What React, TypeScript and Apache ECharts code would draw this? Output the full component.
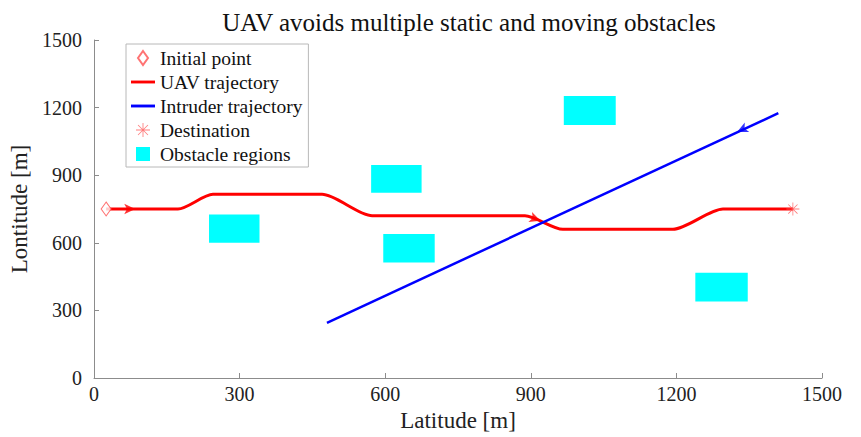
import React, { useEffect, useRef } from "react";
import * as echarts from "echarts";

const titleText = "UAV avoids multiple static and moving obstacles";
const xTicks = [0, 300, 600, 900, 1200, 1500];
const yTicks = [0, 300, 600, 900, 1200, 1500];
const initialPoint = [[25, 750]];
const destinationPoint = [[1440, 750]];
const uavTrajectory = [
  [25, 750], [173, 750], [245, 815], [470, 815], [573, 720],
  [888, 720], [966, 660], [1193, 660], [1296, 750], [1440, 750],
];
const intruderTrajectory = [[480, 245], [1410, 1175]];
// [xMin, xMax, yMin, yMax]
const obstacles = [
  [237, 341, 600, 726],
  [571, 675, 822, 945],
  [596, 702, 513, 639],
  [968, 1075, 1123, 1252],
  [1239, 1347, 340, 467],
];
// [x, y, rotation]
const uavArrows = [[85, 750, -90], [920, 698, -110]];
const intruderArrows = [[1325, 1092, 115]];

const FONT = "'Liberation Serif', 'Times New Roman', serif";
const DIAMOND = "path://M5,0 L10,7 L5,14 L0,7 Z";
const ASTERISK =
  "path://M9.4,0 L10.6,0 L10.6,20 L9.4,20 Z M0,9.4 L20,9.4 L20,10.6 L0,10.6 Z M2.5,3.3 L3.3,2.5 L17.5,16.7 L16.7,17.5 Z M16.7,2.5 L17.5,3.3 L3.3,17.5 L2.5,16.7 Z";
const SQUARE = "path://M0,0 L10,0 L10,10 L0,10 Z";
const LINE_ICON = "path://M0,0 L25,0 L25,3 L0,3 Z";

export default function App() {
  const ref = useRef<HTMLDivElement>(null);
  useEffect(() => {
    if (!ref.current) return;
    const chart = echarts.init(ref.current, null, { renderer: "svg" });
    const axisCommon = {
      min: 0,
      max: 1500,
      interval: 300,
      axisLine: { show: true, lineStyle: { color: "#8c8c8c", width: 1 } },
      axisTick: { show: true, inside: true, length: 5, lineStyle: { color: "#8c8c8c" } },
      splitLine: { show: false },
      nameTextStyle: { fontFamily: FONT, fontSize: 23, color: "#222" },
    };
    chart.setOption({
      animation: false,
      backgroundColor: "#fff",
      title: {
        text: titleText,
        left: 464,
        textAlign: "center",
        top: 5,
        textStyle: { fontFamily: FONT, fontSize: 25, fontWeight: "normal", color: "#111" },
      },
      grid: { left: 94, right: 39, top: 40, bottom: 59, containLabel: false },
      legend: {
        orient: "vertical",
        left: 126,
        top: 44,
        padding: [4, 6, 3, 5],
        itemWidth: 24,
        itemHeight: 14,
        itemGap: 4,
        backgroundColor: "#fff",
        borderColor: "#b8b8b8",
        borderWidth: 1,
        textStyle: { fontFamily: FONT, fontSize: 19.5, color: "#111" },
        data: [
          { name: "Initial point", icon: DIAMOND },
          { name: "UAV trajectory", icon: LINE_ICON },
          { name: "Intruder trajectory", icon: LINE_ICON },
          { name: "Destination", icon: ASTERISK },
          { name: "Obstacle regions", icon: SQUARE },
        ],
      },
      xAxis: {
        type: "value",
        ...axisCommon,
        name: "Latitude [m]",
        nameLocation: "middle",
        nameGap: 29,
        axisLabel: {
          fontFamily: FONT,
          fontSize: 20,
          color: "#222",
          margin: 6,
          formatter: (v: number) => (xTicks.includes(v) ? String(v) : ""),
        },
      },
      yAxis: {
        type: "value",
        ...axisCommon,
        name: "Lontitude [m]",
        nameLocation: "middle",
        nameGap: 56,
        axisLabel: {
          fontFamily: FONT,
          fontSize: 20,
          color: "#222",
          margin: 12,
          formatter: (v: number) => (yTicks.includes(v) ? String(v) : ""),
        },
      },
      series: [
        {
          name: "Obstacle regions",
          type: "custom",
          data: obstacles,
          itemStyle: { color: "#00ffff" },
          renderItem: (params: any, api: any) => {
            const p0 = api.coord([api.value(0), api.value(3)]);
            const p1 = api.coord([api.value(1), api.value(2)]);
            return {
              type: "rect",
              shape: { x: p0[0], y: p0[1], width: p1[0] - p0[0], height: p1[1] - p0[1] },
              style: { fill: "#00ffff" },
            };
          },
          encode: { x: [0, 1], y: [2, 3] },
          z: 1,
        },
        {
          name: "UAV trajectory",
          type: "line",
          data: uavTrajectory,
          smooth: 0.25,
          symbol: "none",
          lineStyle: { color: "#ff0000", width: 3 },
          itemStyle: { color: "#ff0000" },
          z: 3,
        },
        {
          name: "Intruder trajectory",
          type: "line",
          data: intruderTrajectory,
          symbol: "none",
          lineStyle: { color: "#0000ff", width: 2.5 },
          itemStyle: { color: "#0000ff" },
          z: 4,
        },
        {
          name: "uavArrows",
          type: "scatter",
          data: uavArrows.map((a) => ({ value: [a[0], a[1]], symbolRotate: a[2] })),
          symbol: "arrow",
          symbolSize: [8, 11],
          itemStyle: { color: "#ff0000" },
          z: 5,
        },
        {
          name: "intruderArrows",
          type: "scatter",
          data: intruderArrows.map((a) => ({ value: [a[0], a[1]], symbolRotate: a[2] })),
          symbol: "arrow",
          symbolSize: [8, 11],
          itemStyle: { color: "#0000ff" },
          z: 5,
        },
        {
          name: "Initial point",
          type: "scatter",
          data: initialPoint,
          symbol: DIAMOND,
          symbolSize: [10, 14],
          itemStyle: { color: "#ffffff", borderColor: "#ff5050", borderWidth: 1 },
          z: 6,
        },
        {
          name: "Destination",
          type: "scatter",
          data: destinationPoint,
          symbol: ASTERISK,
          symbolSize: 13,
          itemStyle: { color: "#ff5a5a" },
          z: 6,
        },
      ],
    });
    return () => chart.dispose();
  }, []);
  return <div ref={ref} style={{ width: 861, height: 437, position: "absolute", left: 0, top: 0 }} />;
}
